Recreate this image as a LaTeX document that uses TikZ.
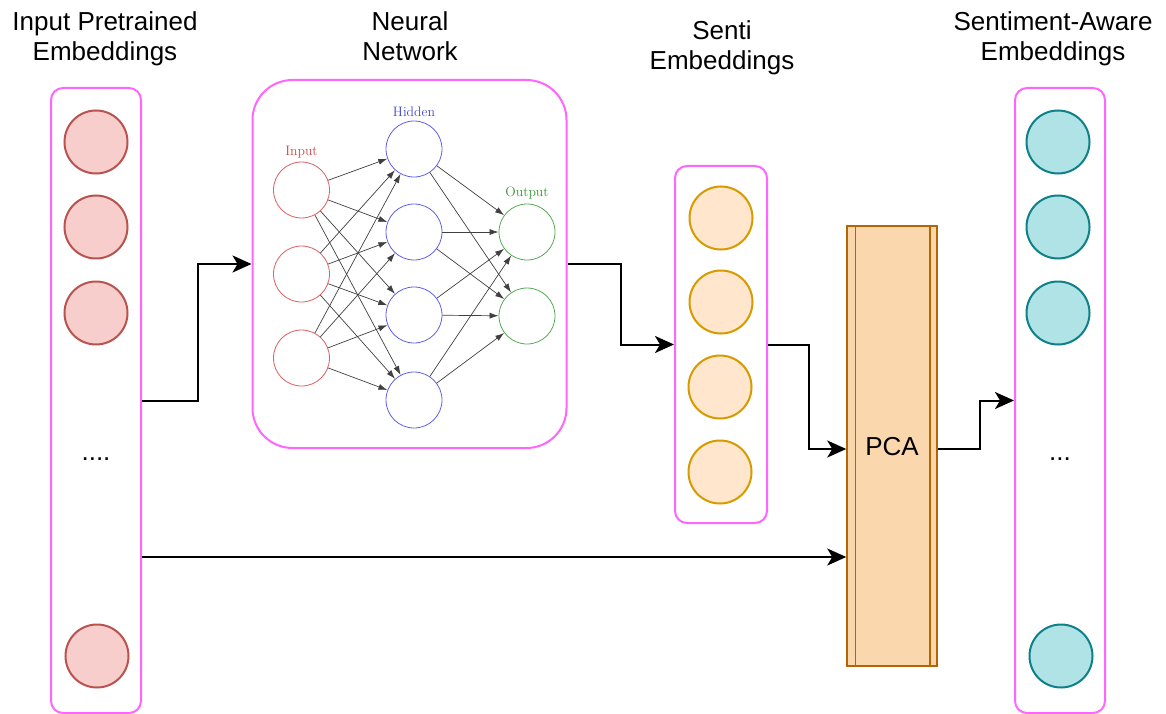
\documentclass[tikz,border=0pt]{standalone}
\usepackage{fontspec}
\newfontfamily\helv{Liberation Sans}
\usetikzlibrary{arrows.meta,calc}

\definecolor{pinkline}{HTML}{FF66FF}
\definecolor{redfill}{HTML}{F8CECC}
\definecolor{redline}{HTML}{B85450}
\definecolor{orfill}{HTML}{FFE6CC}
\definecolor{orline}{HTML}{D79B00}
\definecolor{tealfill}{HTML}{B0E3E6}
\definecolor{tealline}{HTML}{0E8088}
\definecolor{pcafill}{HTML}{FAD7AC}
\definecolor{pcaline}{HTML}{B46504}
\definecolor{nnin}{RGB}{220,95,95}
\definecolor{nnhid}{RGB}{95,95,235}
\definecolor{nnout}{RGB}{85,170,85}
\definecolor{nnintxt}{RGB}{200,70,70}
\definecolor{nnhidtxt}{RGB}{70,70,210}
\definecolor{nnouttxt}{RGB}{50,150,50}

\tikzset{
  column/.style={draw=pinkline, line width=2pt, rounded corners=12pt, fill=white,
    minimum width=90pt, inner sep=0pt},
  emb/.style={circle, line width=2pt, minimum size=63pt, inner sep=0pt},
  redemb/.style={emb, draw=redline, fill=redfill},
  oremb/.style={emb, draw=orline, fill=orfill},
  tealemb/.style={emb, draw=tealline, fill=tealfill},
  title/.style={font=\helv\fontsize{26}{30}\selectfont, align=center, inner sep=0pt},
  conn/.style={line width=2pt, -{Stealth[length=19pt,width=17pt,inset=5pt]}},
  neuron/.style={circle, line width=0.8pt, minimum size=56pt, inner sep=0pt},
  nnlabel/.style={font=\fontsize{13.7}{16}\selectfont, inner sep=0pt},
  syn/.style={draw=black!75, line width=0.7pt, -{Latex[length=9pt,width=6pt]}}
}

\begin{document}
\begin{tikzpicture}[x=1pt,y=-1pt]
\useasboundingbox (0,0) rectangle (1166,714);

% titles
\node[title] (t1) at (105,39) {Input Pretrained\\Embeddings};
\node[title] (t2) at (410,36) {Neural\\Network};
\node[title] (t3) at (722,48) {Senti\\Embeddings};
\node[title] (t4) at (1053,39) {Sentiment-Aware\\Embeddings};

% input embedding column
\node[column, minimum height=625pt] (lbox) at (96,400.5) {};
\node[redemb] (l1) at (96,142) {};
\node[redemb] (l2) at (96,227) {};
\node[redemb] (l3) at (96,313) {};
\node[font=\helv\fontsize{26}{30}\selectfont] (ldots) at (96,459) {....};
\node[redemb] (l4) at (97,656) {};

% neural network panel
\node[draw=pinkline, line width=2pt, rounded corners=40pt, minimum width=314pt,
      minimum height=368pt, inner sep=0pt] (nn) at (409.5,264) {};
\foreach \i/\y in {1/190,2/274,3/358}
  \node[neuron, draw=nnin] (i\i) at (301.5,\y) {};
\foreach \i/\y in {1/149,2/232,3/315,4/400}
  \node[neuron, draw=nnhid] (h\i) at (414,\y) {};
\foreach \i/\y in {1/232,2/316}
  \node[neuron, draw=nnout] (o\i) at (527,\y) {};
\node[nnlabel, text=nnintxt] (li) at (301.5,152) {Input};
\node[nnlabel, text=nnhidtxt] (lh) at (414,112) {Hidden};
\node[nnlabel, text=nnouttxt] (lo) at (527,193) {Output};
\foreach \a in {1,2,3}
  \foreach \b in {1,2,3,4}
    \draw[syn] (i\a) -- (h\b);
\foreach \a in {1,2,3,4}
  \foreach \b in {1,2}
    \draw[syn] (h\a) -- (o\b);

% senti embedding column
\node[column, minimum width=92pt, minimum height=357pt] (senti) at (721,344.5) {};
\node[oremb] (s1) at (721,218) {};
\node[oremb] (s2) at (721,302) {};
\node[oremb] (s3) at (720,387) {};
\node[oremb] (s4) at (720,472) {};

% PCA block
\node[draw=pcaline, fill=pcafill, line width=1.5pt, minimum width=90pt,
      minimum height=440pt, inner sep=0pt] (pca) at (892,446) {};
\draw[pcaline, line width=1.5pt] ([xshift=9pt]pca.north west) -- ([xshift=9pt]pca.south west);
\draw[pcaline, line width=1.5pt] ([xshift=-8pt]pca.north east) -- ([xshift=-8pt]pca.south east);
\node[font=\helv\fontsize{26}{30}\selectfont, inner sep=0pt] (pcat) at ([yshift=-1pt]pca.center) {PCA};

% output embedding column
\node[column, minimum height=625pt] (rbox) at (1060,400.5) {};
\node[tealemb] (r1) at (1058,142) {};
\node[tealemb] (r2) at (1058,227) {};
\node[tealemb] (r3) at (1058,313) {};
\node[font=\helv\fontsize{26}{30}\selectfont] (rdots) at (1060,459) {...};
\node[tealemb] (r4) at (1061,656) {};

% connectors
\draw[conn] (lbox.east) -- ++(56,0) |- (nn.west);
\draw[conn] (nn.east) -| ($(nn.east)!0.5!(senti.west)$) |- (senti.west);
\draw[conn] (senti.east) -| ($(senti.east)!0.53!(pca.west)$) |- ([yshift=-3pt]pca.west);
\draw[conn] ([yshift=-3pt]pca.east) -| ($(pca.east)!0.56!(rbox.west)$) |- (rbox.west);
\draw[conn] ([yshift=-156.5pt]lbox.east) -- ([yshift=-156.5pt]lbox.east -| pca.west);
\end{tikzpicture}
\end{document}
